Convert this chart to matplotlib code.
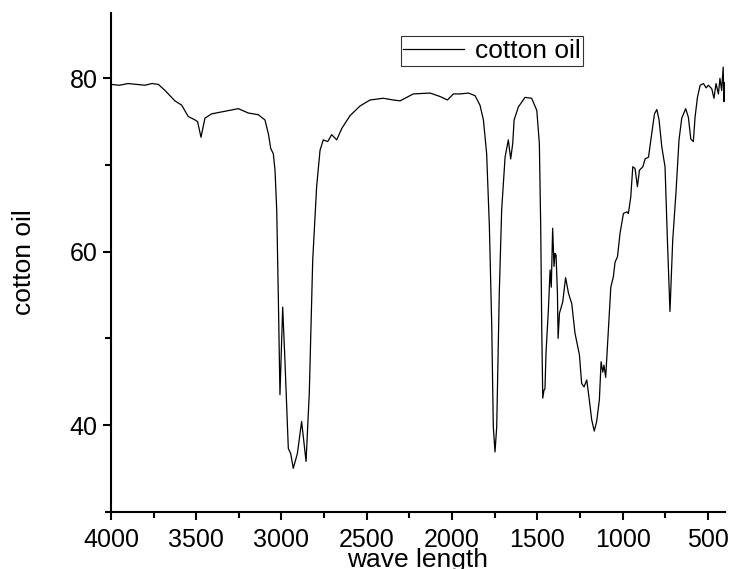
import numpy as np
import matplotlib
matplotlib.use("Agg")
import matplotlib.pyplot as plt
from matplotlib.ticker import MultipleLocator

# FTIR spectrum of cotton oil
wave = [4000, 3950, 3900, 3850, 3800, 3760, 3722, 3683, 3625, 3585, 3547, 3507,
        3492, 3472, 3449, 3410, 3331, 3253, 3195, 3136, 3097, 3077, 3063, 3048,
        3038, 3028, 3019, 3009, 2993, 2980, 2960, 2946, 2931, 2907, 2882, 2856,
        2837, 2817, 2794, 2774, 2755, 2729, 2706, 2676, 2647, 2598, 2540, 2481,
        2403, 2344, 2305, 2227, 2129, 2070, 2027, 1992, 1953, 1904, 1865, 1836,
        1816, 1797, 1781, 1767, 1758, 1748, 1738, 1723, 1709, 1689, 1670, 1656,
        1644, 1636, 1611, 1572, 1533, 1503, 1488, 1480, 1474, 1468, 1461, 1455,
        1449, 1435, 1425, 1418, 1410, 1402, 1396, 1390, 1382, 1378, 1370, 1351,
        1334, 1317, 1298, 1279, 1253, 1240, 1226, 1210, 1195, 1181, 1166, 1152,
        1136, 1126, 1116, 1109, 1099, 1083, 1069, 1054, 1044, 1030, 1015, 995,
        975, 966, 952, 940, 927, 913, 901, 881, 868, 848, 829, 813, 799, 786,
        770, 751, 737, 722, 706, 686, 669, 653, 630, 614, 600, 585, 575, 561,
        545, 526, 510, 497, 477, 464, 452, 438, 429, 419, 410, 406, 403]
trans = [79.3, 79.2, 79.4, 79.3, 79.2, 79.4, 79.3, 78.6, 77.4, 76.9, 75.6, 75.2,
         75.0, 73.2, 75.4, 75.9, 76.2, 76.5, 76.0, 75.8, 75.2, 73.6, 71.9, 71.3,
         69.4, 64.8, 55.2, 43.5, 53.6, 47.5, 37.3, 36.7, 35.0, 36.7, 40.4, 35.8,
         43.7, 59.0, 67.5, 71.7, 72.9, 72.7, 73.5, 72.9, 74.2, 75.7, 76.8, 77.5,
         77.7, 77.5, 77.4, 78.2, 78.3, 77.9, 77.5, 78.2, 78.2, 78.3, 78.0, 76.9,
         75.2, 71.3, 62.9, 51.3, 39.8, 36.9, 39.8, 55.2, 64.8, 70.9, 72.9, 70.7,
         72.5, 75.2, 76.7, 77.8, 77.7, 76.3, 72.5, 62.9, 51.3, 43.1, 44.0, 44.2,
         48.3, 53.3, 57.9, 55.9, 62.7, 58.3, 59.8, 59.6, 55.2, 50.0, 52.9, 54.2,
         57.0, 55.2, 54.0, 50.6, 48.1, 44.8, 44.4, 45.2, 42.9, 40.6, 39.3, 40.4,
         42.9, 47.3, 46.1, 46.9, 45.5, 51.0, 55.9, 57.1, 58.8, 59.4, 62.1, 64.4,
         64.6, 64.4, 66.3, 69.8, 69.6, 67.5, 69.4, 69.8, 70.7, 70.9, 73.6, 75.9,
         76.4, 75.2, 72.1, 69.8, 61.3, 53.1, 61.3, 67.1, 72.9, 75.4, 76.5, 75.5,
         73.0, 72.7, 75.5, 77.8, 79.2, 79.4, 78.9, 79.2, 78.8, 77.7, 79.4, 78.2,
         80.0, 78.6, 81.3, 77.3, 79.5]

plt.rcParams['font.family'] = ['Liberation Sans', 'DejaVu Sans']

fig = plt.figure(figsize=(7.3, 5.69), dpi=100)
ax = fig.add_axes([0.152, 0.1007, 0.841, 0.8759])

ax.plot(wave, trans, color='black', linewidth=0.9, label='cotton oil')

ax.set_xlim(4000, 400)
ax.set_ylim(30, 87.5)
ax.xaxis.set_major_locator(MultipleLocator(500))
ax.xaxis.set_minor_locator(MultipleLocator(250))
ax.yaxis.set_major_locator(MultipleLocator(20))
ax.yaxis.set_minor_locator(MultipleLocator(10))

ax.spines['top'].set_visible(False)
ax.spines['right'].set_visible(False)
ax.spines['left'].set_linewidth(1.5)
ax.spines['bottom'].set_linewidth(1.5)
ax.tick_params(which='major', direction='out', length=6, width=1.5, labelsize=18)
ax.tick_params(which='minor', direction='out', length=4, width=1.5)
ax.tick_params(axis='x', which='major', pad=6)

ax.set_xlabel('wave length', fontsize=19, labelpad=-3)
ax.set_ylabel('cotton oil', fontsize=19, labelpad=24)

leg = ax.legend(loc='upper left', bbox_to_anchor=(0.472, 0.954), fontsize=19,
                frameon=True, fancybox=False, borderaxespad=0, borderpad=0.1,
                handlelength=2.3, handletextpad=0.4)
leg.get_frame().set_edgecolor('black')
leg.get_frame().set_linewidth(0.8)

fig.savefig('out.png', dpi=100)
